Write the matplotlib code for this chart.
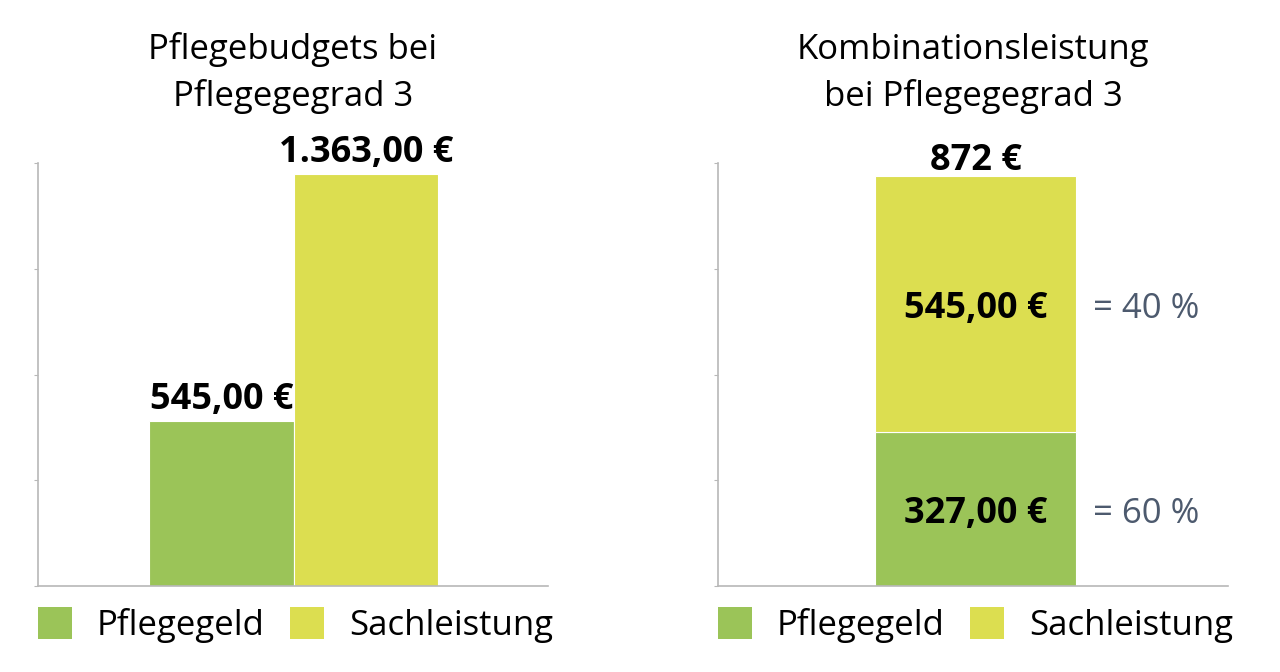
import matplotlib.pyplot as plt
from matplotlib.patches import Patch

# Daten
kategorien = ["Pflegegeld", "Sachleistung"]
budget_werte = [545.00, 1363.00]
kombi_werte = [327.00, 545.00]
kombi_anteile = ["= 60 %", "= 40 %"]
farben = ["#9bc458", "#dcde50"]

plt.rcParams['font.family'] = ['Open Sans', 'DejaVu Sans']


def eur(v, dez=True):
    if dez:
        s = "{:,.2f}".format(v)
    else:
        s = "{:,.0f}".format(v)
    s = s.replace(",", "X").replace(".", ",").replace("X", ".")
    return s + " €"


def achse_stil(ax, ymax):
    for s in ["top", "right"]:
        ax.spines[s].set_visible(False)
    for s in ["left", "bottom"]:
        ax.spines[s].set_color("#b8b8b8")
        ax.spines[s].set_linewidth(1.2)
    ax.set_ylim(0, ymax)
    ax.set_yticks([ymax * i / 4 for i in range(5)])
    ax.set_yticklabels([])
    ax.tick_params(axis="y", length=3, color="#b8b8b8")
    ax.set_xticks([])


def legende(ax):
    handles = [Patch(facecolor=f, edgecolor="none") for f in farben]
    ax.legend(handles, kategorien, loc="upper left", bbox_to_anchor=(0.0, -0.05),
              ncol=2, frameon=False, fontsize=25, handlelength=0.98, handleheight=1.05,
              handletextpad=0.72, columnspacing=0.72, borderaxespad=0, borderpad=0)


fig = plt.figure(figsize=(12.8, 6.72), dpi=100)

# Linkes Diagramm
ax1 = fig.add_axes([0.0297, 0.128, 0.3984, 0.629])
ax1.bar([0, 1], budget_werte, width=1.0, color=farben, edgecolor="white", linewidth=0.8)
achse_stil(ax1, 1400)
ax1.set_xlim(-1.27, 2.26)
for x, v in zip([0, 1], budget_werte):
    ax1.text(x, v + 10, eur(v), ha="center", va="bottom", fontsize=26, fontweight="bold")
ax1.set_title("Pflegebudgets bei\nPflegegegrad 3", fontsize=25, pad=41, linespacing=1.45)
legende(ax1)

# Rechtes Diagramm
ax2 = fig.add_axes([0.561, 0.128, 0.3984, 0.629])
unten = 0
for v, f, a in zip(kombi_werte, farben, kombi_anteile):
    ax2.bar(0, v, bottom=unten, width=1.0, color=f, edgecolor="white", linewidth=0.8)
    ax2.text(0, unten + v / 2 - 10, eur(v), ha="center", va="center", fontsize=26, fontweight="bold")
    ax2.text(0.585, unten + v / 2 - 10, a, ha="left", va="center", fontsize=25, color="#4d5a6e")
    unten += v
achse_stil(ax2, 900)
ax2.set_xlim(-1.28, 1.256)
ax2.text(0, unten - 6, eur(unten, dez=False), ha="center", va="bottom", fontsize=26, fontweight="bold")
ax2.set_title("Kombinationsleistung\nbei Pflegegegrad 3", fontsize=25, pad=41, linespacing=1.45)
legende(ax2)

plt.savefig("out.png", dpi=100)
